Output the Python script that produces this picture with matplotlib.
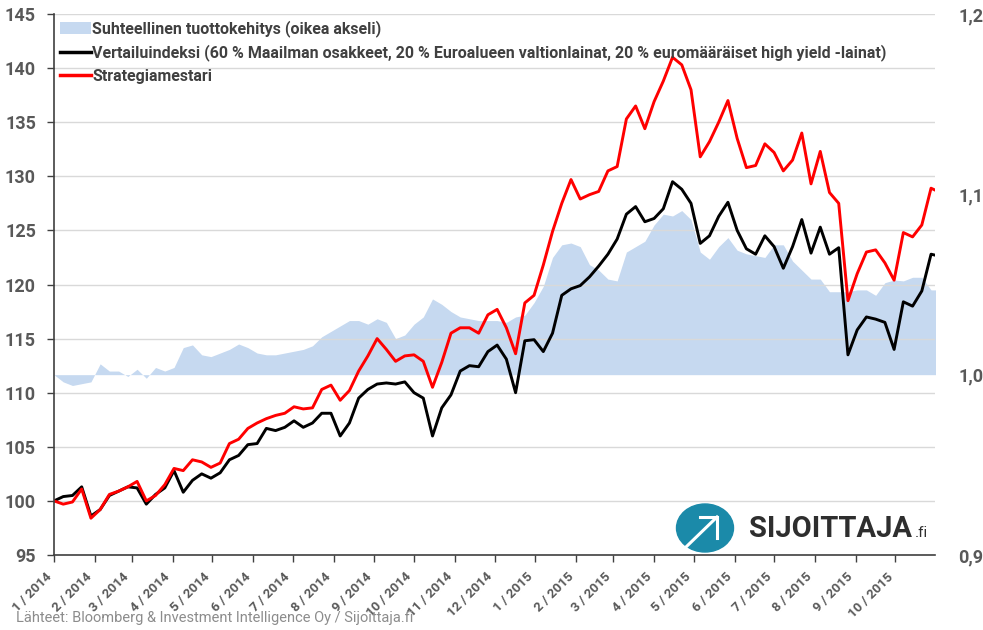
import matplotlib
matplotlib.use('Agg')
import matplotlib.pyplot as plt
import pandas as pd
from matplotlib.patches import Ellipse, Patch
from matplotlib.lines import Line2D

plt.rcParams['font.family'] = ['Roboto', 'DejaVu Sans']

# weekly observations starting 1.1.2014
dates = pd.date_range('2014-01-01', periods=97, freq='7D')

benchmark = [100.0, 100.4, 100.5, 101.3, 98.6, 99.2, 100.5, 100.9, 101.3, 101.2,
             99.7, 100.6, 101.2, 102.8, 100.8, 101.9, 102.5, 102.1, 102.6, 103.8,
             104.2, 105.2, 105.3, 106.7, 106.5, 106.8, 107.4, 106.8, 107.2, 108.1,
             108.1, 106.0, 107.2, 109.5, 110.3, 110.8, 110.9, 110.8, 111.0, 110.0,
             109.5, 106.0, 108.6, 109.8, 112.0, 112.5, 112.4, 113.8, 114.4, 113.1,
             110.0, 114.8, 114.9, 113.8, 115.5, 119.0, 119.6, 119.9, 120.7, 121.7,
             122.8, 124.2, 126.5, 127.2, 125.8, 126.1, 127.0, 129.5, 128.8, 127.5,
             123.8, 124.5, 126.3, 127.6, 125.0, 123.3, 122.8, 124.5, 123.5, 121.5,
             123.5, 126.0, 122.9, 125.3, 122.8, 123.4, 113.5, 115.8, 117.0, 116.8,
             116.5, 114.0, 118.4, 118.0, 119.4, 122.8, 122.6]

strategy = [100.0, 99.7, 99.9, 101.1, 98.4, 99.2, 100.6, 100.9, 101.3, 101.8,
            100.0, 100.5, 101.5, 103.0, 102.8, 103.8, 103.6, 103.1, 103.5, 105.3,
            105.7, 106.7, 107.2, 107.6, 107.9, 108.1, 108.7, 108.5, 108.6, 110.3,
            110.7, 109.3, 110.2, 112.0, 113.4, 115.0, 114.0, 112.9, 113.4, 113.5,
            112.9, 110.5, 112.8, 115.5, 116.0, 116.0, 115.5, 117.2, 117.7, 116.0,
            113.6, 118.3, 119.0, 121.8, 124.9, 127.5, 129.7, 127.9, 128.3, 128.6,
            130.5, 130.9, 135.3, 136.5, 134.4, 136.9, 138.8, 141.0, 140.3, 138.0,
            131.8, 133.2, 135.0, 137.0, 133.5, 130.8, 131.0, 133.0, 132.2, 130.5,
            131.5, 134.0, 129.3, 132.3, 128.5, 127.5, 118.5, 121.0, 123.0, 123.2,
            122.0, 120.4, 124.8, 124.4, 125.5, 128.9, 128.5]

relative = [1.000, 0.996, 0.994, 0.995, 0.996, 1.006, 1.002, 1.002, 0.999, 1.003,
            0.998, 1.004, 1.002, 1.004, 1.015, 1.0165, 1.011, 1.010, 1.012, 1.014,
            1.017, 1.015, 1.012, 1.011, 1.011, 1.012, 1.013, 1.014, 1.016, 1.021,
            1.024, 1.027, 1.030, 1.030, 1.028, 1.031, 1.029, 1.020, 1.022, 1.028,
            1.032, 1.042, 1.039, 1.035, 1.032, 1.031, 1.030, 1.030, 1.030, 1.029,
            1.032, 1.033, 1.040, 1.049, 1.065, 1.072, 1.073, 1.071, 1.061, 1.058,
            1.053, 1.052, 1.068, 1.071, 1.074, 1.083, 1.089, 1.088, 1.091, 1.086,
            1.068, 1.064, 1.071, 1.076, 1.069, 1.067, 1.066, 1.065, 1.072, 1.072,
            1.063, 1.058, 1.053, 1.053, 1.046, 1.046, 1.046, 1.047, 1.047, 1.044,
            1.051, 1.0525, 1.052, 1.054, 1.054, 1.047, 1.047]

label_relative = 'Suhteellinen tuottokehitys (oikea akseli)'
label_benchmark = ('Vertailuindeksi (60 % Maailman osakkeet, 20 % Euroalueen valtionlainat, '
                   '20 % euromääräiset high yield -lainat)')
label_strategy = 'Strategiamestari'

month_ticks = pd.date_range('2014-01-01', '2015-10-01', freq='MS')
month_labels = [f"{d.month} / {d.year}" for d in month_ticks]
left_ticks = [95, 100, 105, 110, 115, 120, 125, 130, 135, 140, 145]
right_ticks = [0.9, 1.0, 1.1, 1.2]
right_labels = ['0,9', '1,0', '1,1', '1,2']

AREA = '#c6d9f0'
TXT = '#595959'

fig = plt.figure(figsize=(9.83, 6.30), dpi=100)
ax = fig.add_axes([54 / 983, 1 - 555 / 630, (935 - 54) / 983, (555 - 14) / 630])
ax2 = ax.twinx()
ax.set_zorder(ax2.get_zorder() + 1)
ax.patch.set_visible(False)

ax2.fill_between(dates, 1.0, relative, color=AREA, linewidth=0)
ax2.set_ylim(0.9, 1.2)
ax2.set_yticks(right_ticks)
ax2.set_yticklabels(right_labels)
ax2.tick_params(axis='y', length=0, pad=17, labelsize=13, labelcolor=TXT)
for t in ax2.get_yticklabels():
    t.set_fontweight('bold')
for s in ax2.spines.values():
    s.set_visible(False)

ax.plot(dates, benchmark, color='black', lw=2.1, solid_joinstyle='round')
ax.plot(dates, strategy, color='#ff0000', lw=2.1, solid_joinstyle='round')

ax.set_ylim(95, 145)
ax.set_yticks(left_ticks)
ax.set_xlim(pd.Timestamp('2014-01-01'), pd.Timestamp('2015-10-31'))
ax.set_xticks(month_ticks)
ax.set_xticklabels(month_labels, rotation=45, ha='right', va='top',
                   rotation_mode='default')
ax.yaxis.grid(True, color='#d9d9d9', lw=1)
ax.set_axisbelow(True)

ax.tick_params(axis='y', length=5, width=1, color='#404040', labelsize=13, labelcolor=TXT, pad=8)
ax.tick_params(axis='x', length=5, width=1, color='#404040', labelsize=9.5, labelcolor=TXT, pad=6)
for t in ax.get_yticklabels() + ax.get_xticklabels():
    t.set_fontweight('bold')
for side in ['top', 'right']:
    ax.spines[side].set_visible(False)
for side in ['left', 'bottom']:
    ax.spines[side].set_color('#404040')
    ax.spines[side].set_linewidth(1.2)

handles = [Patch(facecolor=AREA, edgecolor='none'),
           Line2D([], [], color='black', lw=2.5),
           Line2D([], [], color='#ff0000', lw=2.5)]
leg = ax.legend(handles, [label_relative, label_benchmark, label_strategy],
                loc='upper left', bbox_to_anchor=(0.0, 1.0), frameon=False,
                prop={'size': 11.5, 'weight': 'bold'}, labelcolor='#404040',
                handlelength=1.9, handletextpad=0.1, labelspacing=0.45,
                borderaxespad=0.2, borderpad=0.2)

# logo
fig.add_artist(Ellipse((705 / 983, 1 - 528 / 630), 57 / 983, 48 / 630,
                       transform=fig.transFigure, color='#1b8aa9', zorder=5))
fig.add_artist(Line2D([686 / 983, 717 / 983], [1 - 547 / 630, 1 - 517 / 630],
                      transform=fig.transFigure, color='white', lw=2.2, zorder=6))
fig.add_artist(Line2D([700 / 983, 717 / 983, 717 / 983],
                      [1 - 517 / 630, 1 - 517 / 630, 1 - 538 / 630],
                      transform=fig.transFigure, color='white', lw=2.2, zorder=6,
                      solid_joinstyle='miter'))
fig.text(749 / 983, 1 - 537 / 630, 'SIJOITTAJA', fontsize=21, fontweight='bold',
         color='#2e2e2e', va='baseline', ha='left')
fig.text(915 / 983, 1 - 537 / 630, '.fi', fontsize=11, color='#2e2e2e',
         va='baseline', ha='left')

fig.text(16 / 983, 1 - 622 / 630,
         'Lähteet: Bloomberg & Investment Intelligence Oy / Sijoittaja.fi',
         fontsize=10.5, color='#8c8c8c', va='baseline', ha='left')

fig.savefig('out.png', dpi=100)
